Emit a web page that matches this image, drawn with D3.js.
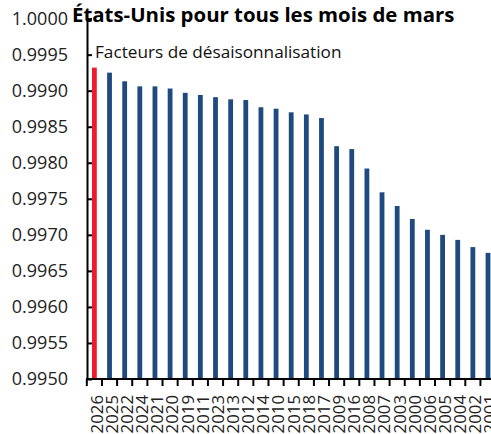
<!DOCTYPE html>
<html><head><meta charset="utf-8">
<script src="https://cdn.jsdelivr.net/npm/d3@7"></script>
<style>html,body{margin:0;padding:0;background:#fff;overflow:hidden}text{font-family:"Open Sans",sans-serif}</style>
</head><body><svg id="c" width="491" height="434"></svg>
<script>
const years = ["2026","2025","2022","2024","2021","2020","2019","2011","2023","2013","2012","2014","2010","2015","2018","2017","2009","2016","2008","2007","2003","2000","2006","2005","2004","2002","2001"];
const factors = [0.99932,0.99925,0.99913,0.99906,0.99906,0.99903,0.99897,0.99894,0.99891,0.99888,0.99887,0.99877,0.99875,0.99870,0.99867,0.99862,0.99823,0.99819,0.99792,0.99759,0.99740,0.99722,0.99707,0.99700,0.99693,0.99683,0.99675];
const yTicks = [0.9950,0.9955,0.9960,0.9965,0.9970,0.9975,0.9980,0.9985,0.9990,0.9995,1.0000];
const title = "États-Unis pour tous les mois de mars";
const subtitle = "Facteurs de désaisonnalisation";

const svg = d3.select("#c");
const x = d3.scaleBand().domain(years).range([87, 495.4]).paddingInner(0.683).paddingOuter(0.33);
const y = d3.scaleLinear().domain([0.995, 1.0]).range([379, 18.6]);

// bars
svg.append("g").selectAll("rect").data(years).join("rect")
  .attr("x", d => x(d)).attr("width", x.bandwidth())
  .attr("y", (d,i) => y(factors[i])).attr("height", (d,i) => y(0.995) - y(factors[i]))
  .attr("fill", (d,i) => i === 0 ? "#ee1b2e" : "#1f4a80");

// y axis
const ya = svg.append("g").attr("transform", "translate(87,0)")
  .call(d3.axisLeft(y).tickValues(yTicks).tickFormat(d3.format(".4f")).tickSizeInner(-5).tickSizeOuter(0).tickPadding(19));
ya.select(".domain").attr("stroke", "#000").attr("stroke-width", 2);
ya.selectAll(".tick line").attr("stroke", "#000").attr("stroke-width", 2);
ya.selectAll(".tick text").attr("font-size", 18).attr("fill", "#222").attr("font-family", "'Open Sans', sans-serif");

// x axis
const gx = svg.append("g");
const gap = (x.step() - x.bandwidth()) / 2;
const bounds = years.map(d => x(d) - gap).concat([x(years[years.length-1]) + x.bandwidth() + gap]);
gx.append("line").attr("x1", 86).attr("x2", 491).attr("y1", 379).attr("y2", 379).attr("stroke", "#000").attr("stroke-width", 2);
gx.selectAll("line.t").data(bounds).join("line").attr("class","t")
  .attr("x1", d => d).attr("x2", d => d).attr("y1", 379).attr("y2", 386).attr("stroke", "#000").attr("stroke-width", 2);
gx.selectAll("text").data(years).join("text")
  .attr("transform", d => `translate(${x(d) + x.bandwidth()/2},395) rotate(-90)`)
  .attr("text-anchor", "end").attr("dy", "0.5em")
  .attr("font-size", 16.8).attr("fill", "#222").text(d => d);

// titles
svg.append("text").attr("x", 72).attr("y", 22).attr("font-size", 20.4).attr("font-weight", "bold").attr("fill", "#000").text(title);
svg.append("text").attr("x", 95).attr("y", 58).attr("font-size", 17.2).attr("fill", "#111").text(subtitle);
</script></body></html>
